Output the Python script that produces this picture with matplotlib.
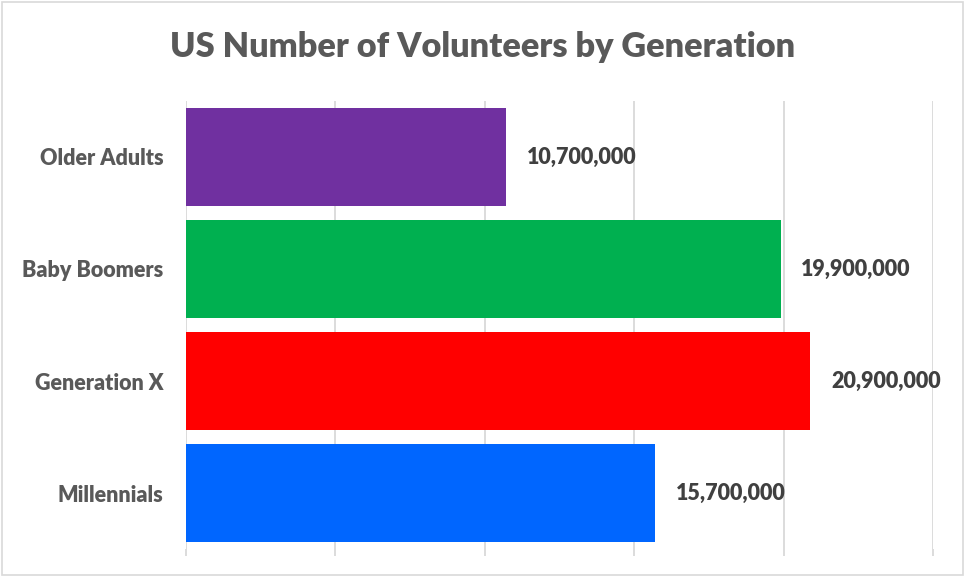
import matplotlib as mpl
mpl.use('Agg')
import matplotlib.pyplot as plt
from matplotlib.ticker import MultipleLocator as mtloc

# data, top to bottom as shown
groups = ['Older Adults', 'Baby Boomers', 'Generation X', 'Millennials']
volunteers = [10700000, 19900000, 20900000, 15700000]
colors = ['#7030A0', '#00B050', '#FF0000', '#0066FF']

GRID = '#D9D9D9'
TXT = '#595959'
WEIGHT = 'heavy'
plt.rcParams['font.family'] = ['Lato', 'DejaVu Sans']

fig = plt.figure(figsize=(9.65, 5.77), dpi=100)
ax = fig.add_axes([0.1927, 0.0485, 0.7741, 0.7765])

ypos = list(range(len(groups)))[::-1]
ax.barh(ypos, volunteers, height=0.867, color=colors, zorder=2)

for y, v in zip(ypos, volunteers):
    ax.annotate('{:,}'.format(v), xy=(v, y), xytext=(15, 0), textcoords='offset points',
                va='center', ha='left', fontsize=15.5, fontweight=WEIGHT, color='#404040')

ax.set_xlim(0, 25000000)
ax.set_ylim(-0.5, len(groups) - 0.5)
ax.xaxis.set_major_locator(mtloc(5000000))
ax.grid(axis='x', color=GRID, linewidth=1.3, zorder=0)
ax.tick_params(axis='x', length=5, width=1.3, color=GRID, labelbottom=False)
ax.tick_params(axis='y', length=0, pad=16)
ax.set_yticks(ypos)
ax.set_yticklabels(groups, fontsize=15.5, fontweight=WEIGHT, color=TXT)
for s in ax.spines.values():
    s.set_visible(False)

fig.text(0.5, 0.918, 'US Number of Volunteers by Generation', ha='center', va='center',
         fontsize=24.7, fontweight=WEIGHT, color=TXT)

# outer chart border
fig.add_artist(plt.Rectangle((0.002, 0.003), 0.996, 0.994, transform=fig.transFigure,
                             fill=False, edgecolor='#D9D9D9', linewidth=1.2))

fig.savefig('out.png', dpi=100)
